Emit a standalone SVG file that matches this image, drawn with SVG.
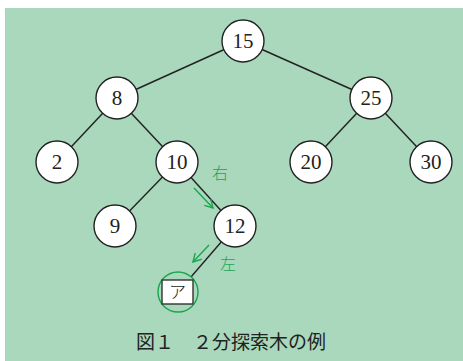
<svg xmlns="http://www.w3.org/2000/svg" width="463" height="361" viewBox="0 0 463 361">
<style>
.n circle{fill:#fff;stroke:#222;stroke-width:1.4}
.n text{font-family:"Liberation Serif",serif;font-size:21px;fill:#222;text-anchor:middle}
.e line{stroke:#222;stroke-width:1.4}
.g{stroke:#1aa64e;stroke-width:1.4;fill:none}
.gl{font-family:"Noto Sans CJK JP","Noto Sans CJK SC",serif;font-size:16px;font-weight:300;fill:#1aa64e;text-anchor:middle}
</style>
<defs>
<marker id="ah" markerWidth="10" markerHeight="10" refX="9" refY="5" orient="auto" markerUnits="userSpaceOnUse">
<path d="M1,0.5 L9,5 L1,9.5" fill="none" stroke="#1aa64e" stroke-width="1.4"/>
</marker>
</defs>
<rect x="5" y="8" width="458" height="353" fill="#aad8bc"/>
<g id="edges" class="e">
<line x1="243" y1="41" x2="117" y2="98"/>
<line x1="243" y1="41" x2="371" y2="98"/>
<line x1="117" y1="98" x2="57" y2="162"/>
<line x1="117" y1="98" x2="177" y2="162"/>
<line x1="371" y1="98" x2="311" y2="162"/>
<line x1="371" y1="98" x2="431" y2="162"/>
<line x1="177" y1="162" x2="115" y2="226"/>
<line x1="177" y1="162" x2="235" y2="226"/>
<line x1="235" y1="226" x2="178" y2="292"/>
</g>
<g id="n15" class="n"><circle cx="243" cy="41" r="21"/><text x="243" y="48">15</text></g>
<g id="n8" class="n"><circle cx="117" cy="98" r="21"/><text x="117" y="105">8</text></g>
<g id="n25" class="n"><circle cx="371" cy="98" r="21"/><text x="371" y="105">25</text></g>
<g id="n2" class="n"><circle cx="57" cy="162" r="21"/><text x="57" y="169">2</text></g>
<g id="n10" class="n"><circle cx="177" cy="162" r="21"/><text x="177" y="169">10</text></g>
<g id="n20" class="n"><circle cx="311" cy="162" r="21"/><text x="311" y="169">20</text></g>
<g id="n30" class="n"><circle cx="431" cy="162" r="21"/><text x="431" y="169">30</text></g>
<g id="n9" class="n"><circle cx="115" cy="226" r="21"/><text x="115" y="233">9</text></g>
<g id="n12" class="n"><circle cx="235" cy="226" r="21"/><text x="235" y="233">12</text></g>
<g id="na">
<circle cx="178" cy="292" r="20" fill="#aad8bc" stroke="#1aa64e" stroke-width="1.4"/>
<rect x="162" y="280" width="31" height="24" fill="#fff" stroke="#333" stroke-width="1.4"/>
<text x="177.5" y="298" font-family="'Noto Sans CJK JP','Noto Sans CJK SC',serif" font-size="17" font-weight="300" fill="#222" text-anchor="middle">ア</text>
</g>
<g id="arrows">
<line class="g" x1="194" y1="188" x2="213" y2="208" marker-end="url(#ah)"/>
<line class="g" x1="209" y1="245" x2="193" y2="262" marker-end="url(#ah)"/>
<text class="gl" x="220" y="179">右</text>
<text class="gl" x="228" y="270">左</text>
</g>
<text x="231" y="349" font-family="'Noto Sans CJK JP','Noto Sans CJK SC',sans-serif" font-size="19" font-weight="400" fill="#222" text-anchor="middle">図１　２分探索木の例</text>
</svg>
